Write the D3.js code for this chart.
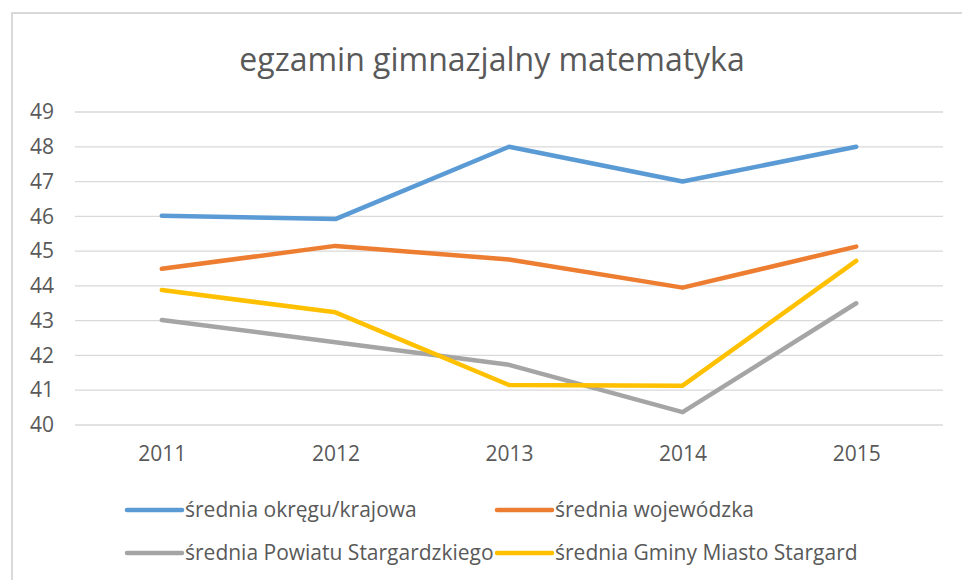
<!DOCTYPE html>
<html>
<head>
<meta charset="utf-8">
<script src="https://cdn.jsdelivr.net/npm/d3@7"></script>
<style>
  html, body { margin: 0; padding: 0; background: #fff; }
  svg text { font-family: "Open Sans", "Noto Sans", sans-serif; }
</style>
</head>
<body>
<div id="chart"></div>
<script>
// data
const years = ["2011", "2012", "2013", "2014", "2015"];
const yTicks = [40, 41, 42, 43, 44, 45, 46, 47, 48, 49];
const seriesNames = [
  "średnia okręgu/krajowa",
  "średnia wojewódzka",
  "średnia Powiatu Stargardzkiego",
  "średnia Gminy Miasto Stargard"
];
const okreg = [46.02, 45.92, 48.0, 47.0, 48.0];
const wojew = [44.49, 45.15, 44.76, 43.95, 45.13];
const powiat = [43.02, 42.38, 41.73, 40.37, 43.5];
const gmina = [43.88, 43.24, 41.15, 41.13, 44.72];
const colors = ["#5b9bd5", "#ed7d31", "#a5a5a5", "#ffc000"];

const allSeries = [okreg, wojew, powiat, gmina];

const W = 962, H = 580;
const svg = d3.select("#chart").append("svg")
  .attr("width", W)
  .attr("height", H);

// chart frame
svg.append("rect")
  .attr("x", 12).attr("y", 13)
  .attr("width", 980).attr("height", 620)
  .attr("fill", "#fff")
  .attr("stroke", "#d9d9d9")
  .attr("stroke-width", 2);

svg.append("text")
  .attr("x", 492).attr("y", 71)
  .attr("text-anchor", "middle")
  .style("font-size", "32px")
  .style("fill", "#595959")
  .text("egzamin gimnazjalny matematyka");

const plot = { left: 75, right: 943, top: 112, bottom: 425 };

const x = d3.scalePoint()
  .domain(years)
  .range([plot.left, plot.right])
  .padding(0.5);

const y = d3.scaleLinear()
  .domain([40, 49])
  .range([plot.bottom, plot.top]);

// gridlines
svg.append("g")
  .selectAll("line")
  .data(yTicks)
  .join("line")
  .attr("x1", plot.left).attr("x2", plot.right)
  .attr("y1", d => y(d)).attr("y2", d => y(d))
  .attr("stroke", "#d9d9d9")
  .attr("stroke-width", 1.3);

// y axis labels
const yAxis = svg.append("g")
  .attr("transform", `translate(${plot.left - 21},0)`)
  .call(d3.axisLeft(y).tickValues(yTicks).tickSize(0).tickPadding(0));
yAxis.select(".domain").remove();
yAxis.selectAll("text")
  .style("font-size", "21px")
  .style("fill", "#595959")
  .attr("font-family", null);

// x axis labels
const xAxis = svg.append("g")
  .attr("transform", `translate(0,${plot.bottom + 21})`)
  .call(d3.axisBottom(x).tickSize(0).tickPadding(0));
xAxis.select(".domain").remove();
xAxis.selectAll("text")
  .style("font-size", "21px")
  .style("fill", "#595959")
  .attr("font-family", null);

const line = d3.line()
  .x((d, i) => x(years[i]))
  .y(d => y(d));

allSeries.forEach((vals, i) => {
  svg.append("path")
    .datum(vals)
    .attr("fill", "none")
    .attr("stroke", colors[i])
    .attr("stroke-width", 4.5)
    .attr("stroke-linecap", "round")
    .attr("stroke-linejoin", "round")
    .attr("d", line);
});

// legend, 2 x 2
const legendPos = [
  { x: 127, y: 510 }, { x: 497, y: 510 },
  { x: 127, y: 553 }, { x: 497, y: 553 }
];
const legend = svg.append("g");
seriesNames.forEach((name, i) => {
  const p = legendPos[i];
  legend.append("line")
    .attr("x1", p.x).attr("x2", p.x + 55)
    .attr("y1", p.y).attr("y2", p.y)
    .attr("stroke", colors[i])
    .attr("stroke-width", 4.5)
    .attr("stroke-linecap", "round");
  legend.append("text")
    .attr("x", p.x + 58).attr("y", p.y)
    .attr("dy", "0.35em")
    .style("font-size", "21px")
    .style("fill", "#595959")
    .text(name);
});
</script>
</body>
</html>
